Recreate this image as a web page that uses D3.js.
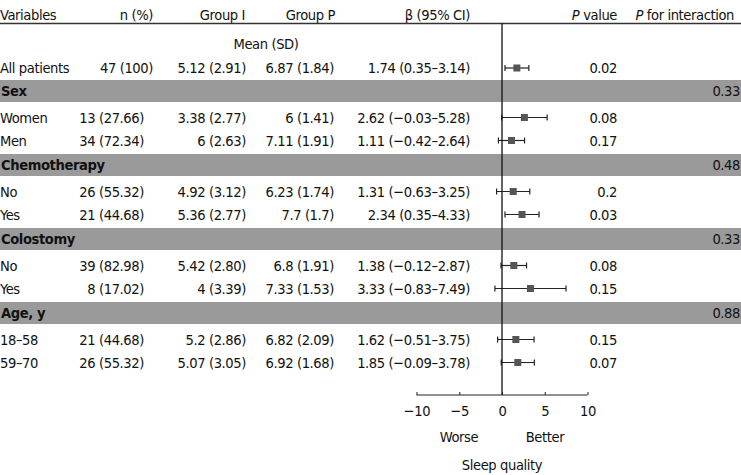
<!DOCTYPE html>
<meta charset="UTF-8">
<head>
<title>Sleep quality forest plot</title>
<style>
body { margin: 0; background: #fff; }
text { font-family: "DejaVu Sans Condensed", "Liberation Sans Narrow", sans-serif; font-size: 14.6px; letter-spacing: -0.4px; fill: #111; }
.band rect { fill: #9a9a9a; }
.band text { font-weight: bold; }
.ci line { stroke: #222; stroke-width: 1.2px; }
.ci rect { fill: #555; }
.axis path, .axis line { stroke: #222; }
</style>
<script src="https://cdnjs.cloudflare.com/ajax/libs/d3/7.8.5/d3.min.js"></script>
</head>
<body>
<script>

// subgroup labels, row by row ("band" rows are the grey heading rows)
var labels   = ["All patients", "Sex", "Women", "Men", "Chemotherapy", "No", "Yes", "Colostomy", "No", "Yes", "Age, y", "18\u201358", "59\u201370"];
var rowType  = ["row", "band", "row", "row", "band", "row", "row", "band", "row", "row", "band", "row", "row"];
var nPct     = ["47 (100)", "", "13 (27.66)", "34 (72.34)", "", "26 (55.32)", "21 (44.68)", "", "39 (82.98)", "8 (17.02)", "", "21 (44.68)", "26 (55.32)"];
var groupI   = ["5.12 (2.91)", "", "3.38 (2.77)", "6 (2.63)", "", "4.92 (3.12)", "5.36 (2.77)", "", "5.42 (2.80)", "4 (3.39)", "", "5.2 (2.86)", "5.07 (3.05)"];
var groupP   = ["6.87 (1.84)", "", "6 (1.41)", "7.11 (1.91)", "", "6.23 (1.74)", "7.7 (1.7)", "", "6.8 (1.91)", "7.33 (1.53)", "", "6.82 (2.09)", "6.92 (1.68)"];
var beta     = [1.74, null, 2.62, 1.11, null, 1.31, 2.34, null, 1.38, 3.33, null, 1.62, 1.85];
var lower    = [0.35, null, -0.03, -0.42, null, -0.63, 0.35, null, -0.12, -0.83, null, -0.51, -0.09];
var upper    = [3.14, null, 5.28, 2.64, null, 3.25, 4.33, null, 2.87, 7.49, null, 3.75, 3.78];
var pValue   = ["0.02", "", "0.08", "0.17", "", "0.2", "0.03", "", "0.08", "0.15", "", "0.15", "0.07"];
var pInter   = ["", "0.33", "", "", "0.48", "", "", "0.33", "", "", "0.88", "", ""];
var xTicks   = [-10, -5, 0, 5, 10];

var width = 741, height = 475;

var svg = d3.select("body").append("svg")
    .attr("width", width)
    .attr("height", height);

var x = d3.scaleLinear().domain([-10, 10]).range([416.5, 587.5]);

// vertical position of each row: gaps depend on what comes before
var ys = [];
var y = 68;
rowType.forEach(function(t, i) {
  if (i > 0) {
    if (t == "band") y += (i == 1 ? 23 : 24.5);
    else if (rowType[i-1] == "band") y += 26.5;
    else y += 23;
  }
  ys.push(y);
});

function fmt(s) { return s.replace(/-/g, "\u2212"); }

function ci(b, l, u) {
  return b.toFixed(2) + " (" + fmt(l.toFixed(2)) + "\u2013" + fmt(u.toFixed(2)) + ")";
}

// header
var head = svg.append("g");
head.append("text").attr("x", 0).attr("y", 15).attr("dy", ".35em").text("Variables");
head.append("text").attr("x", 153).attr("y", 15).attr("dy", ".35em").attr("text-anchor", "end").text("n (%)");
head.append("text").attr("x", 245).attr("y", 15).attr("dy", ".35em").attr("text-anchor", "end").text("Group I");
head.append("text").attr("x", 335).attr("y", 15).attr("dy", ".35em").attr("text-anchor", "end").text("Group P");
head.append("text").attr("x", 470).attr("y", 15).attr("dy", ".35em").attr("text-anchor", "end").text("\u03b2 (95% CI)");
var pv = head.append("text").attr("x", 617).attr("y", 15).attr("dy", ".35em").attr("text-anchor", "end");
pv.append("tspan").style("font-style", "italic").text("P");
pv.append("tspan").text(" value");
var pi = head.append("text").attr("x", 734).attr("y", 15).attr("dy", ".35em").attr("text-anchor", "end");
pi.append("tspan").style("font-style", "italic").text("P");
pi.append("tspan").text(" for interaction");
head.append("line").attr("x1", 0).attr("x2", width).attr("y1", 23.5).attr("y2", 23.5)
    .attr("stroke", "#333").attr("stroke-width", 1.6);
head.append("text").attr("x", 266).attr("y", 44).attr("dy", ".35em").attr("text-anchor", "middle").text("Mean (SD)");

// grey bands
var bands = svg.selectAll("g.band")
    .data(d3.range(labels.length).filter(function(i) { return rowType[i] == "band"; }))
  .enter().append("g")
    .attr("class", "band");

bands.append("rect")
    .attr("x", 0).attr("width", width)
    .attr("y", function(i) { return ys[i] - 11; })
    .attr("height", 22);

bands.append("text")
    .attr("x", 1).attr("y", function(i) { return ys[i]; })
    .attr("dy", ".35em")
    .text(function(i) { return labels[i]; });

bands.append("text")
    .attr("x", 740).attr("y", function(i) { return ys[i]; })
    .attr("dy", ".35em").attr("text-anchor", "end")
    .style("font-weight", "normal")
    .text(function(i) { return pInter[i]; });

// data rows
var rows = svg.selectAll("g.row")
    .data(d3.range(labels.length).filter(function(i) { return rowType[i] == "row"; }))
  .enter().append("g")
    .attr("class", "row")
    .attr("transform", function(i) { return "translate(0," + ys[i] + ")"; });

rows.append("text").attr("x", 0).attr("dy", ".35em").text(function(i) { return labels[i]; });
rows.append("text").attr("x", function(i) { return i == 0 ? 153 : 144; }).attr("dy", ".35em")
    .attr("text-anchor", "end").text(function(i) { return nPct[i]; });
rows.append("text").attr("x", 246).attr("dy", ".35em").attr("text-anchor", "end").text(function(i) { return groupI[i]; });
rows.append("text").attr("x", 334).attr("dy", ".35em").attr("text-anchor", "end").text(function(i) { return groupP[i]; });
rows.append("text").attr("x", 470).attr("dy", ".35em").attr("text-anchor", "end")
    .text(function(i) { return ci(beta[i], lower[i], upper[i]); });
rows.append("text").attr("x", 617).attr("dy", ".35em").attr("text-anchor", "end").text(function(i) { return pValue[i]; });

// zero line
svg.append("line")
    .attr("x1", x(0)).attr("x2", x(0))
    .attr("y1", 23.5).attr("y2", 395)
    .attr("stroke", "#111").attr("stroke-width", 1.3);

// confidence intervals
var cis = rows.append("g").attr("class", "ci");
cis.append("line")
    .attr("x1", function(i) { return x(lower[i]); })
    .attr("x2", function(i) { return x(upper[i]); });
cis.append("line")
    .attr("x1", function(i) { return x(lower[i]); })
    .attr("x2", function(i) { return x(lower[i]); })
    .attr("y1", -3).attr("y2", 3);
cis.append("line")
    .attr("x1", function(i) { return x(upper[i]); })
    .attr("x2", function(i) { return x(upper[i]); })
    .attr("y1", -3).attr("y2", 3);
cis.append("rect")
    .attr("x", function(i) { return x(beta[i]) - 3.5; })
    .attr("y", -3.5)
    .attr("width", 7).attr("height", 7);

// axis
svg.append("g")
    .attr("class", "axis")
    .attr("transform", "translate(0,395)")
    .call(d3.axisBottom(x).tickValues(xTicks).tickSize(-3).tickSizeOuter(0).tickPadding(11)
      .tickFormat(function(d) { return fmt(String(d)); }))
    .call(function(g) { g.selectAll("text").style("font-size", "14.6px").attr("fill", "#111"); })
    .call(function(g) { g.select(".domain").attr("d", "M" + x(-10) + ",0H" + x(10)); });

svg.append("text").attr("x", 459).attr("y", 437).attr("dy", ".35em").attr("text-anchor", "middle").text("Worse");
svg.append("text").attr("x", 545).attr("y", 437).attr("dy", ".35em").attr("text-anchor", "middle").text("Better");
svg.append("text").attr("x", 502).attr("y", 465).attr("dy", ".35em").attr("text-anchor", "middle").text("Sleep quality");

</script>
</body>
</html>
